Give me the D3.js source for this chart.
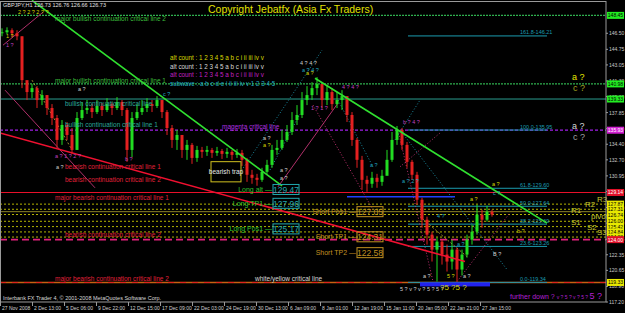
<!DOCTYPE html>
<html>
<head>
<meta charset="utf-8">
<script src="https://cdn.jsdelivr.net/npm/d3@7"></script>
<style>
body { margin: 0; background: #000; }
svg { display: block; }
text { font-family: "Liberation Sans", Arial, sans-serif; }
</style>
</head>
<body>
<div id="wrapper"></div>
<script>
// GBPJPY H1, sampled every 10 bars
const barStep = 10
const closes = [146.61,146.83,146.50,146.17,141.39,140.09,140.52,139.22,139.76,138.35,
  137.26,134.87,136.50,135.41,133.78,137.26,138.13,138.35,137.91,138.57,
  138.13,138.78,138.35,139.00,138.13,133.78,137.26,137.91,138.35,138.78,
  138.57,139.22,137.91,136.17,134.87,135.41,133.78,134.33,132.91,133.78,
  133.57,133.78,133.46,133.67,133.35,133.57,133.24,133.46,132.70,131.07,
  130.74,130.52,131.39,132.15,133.78,134.00,134.87,135.74,137.04,137.59,
  139.22,139.76,140.52,140.96,139.22,140.09,138.78,139.22,139.65,137.59,
  134.87,132.70,130.52,130.09,130.74,130.30,130.96,132.70,134.87,135.96,
  134.33,132.48,131.07,128.35,126.17,124.54,122.91,123.78,122.37,121.61,
  122.91,120.74,122.37,124.00,124.87,126.72,126.17,127.04,126.73]
const highs = [147.04,147.15,147.04,146.83,146.17,141.17,140.96,140.74,140.30,139.76,
  138.78,137.59,137.04,136.83,136.17,137.91,139.00,139.22,138.78,139.22,
  138.89,139.43,139.00,139.54,139.22,138.35,137.91,138.78,139.22,139.43,
  139.22,139.65,139.22,138.13,136.50,135.96,135.41,134.87,134.54,134.22,
  134.11,134.22,134.00,134.11,133.89,134.00,133.78,133.89,133.78,132.91,
  131.61,131.17,131.83,132.70,134.33,134.87,135.96,136.50,137.91,138.67,
  140.09,140.74,141.17,141.72,140.52,140.85,140.52,140.09,140.30,139.43,
  137.91,135.09,133.13,130.96,131.39,131.17,131.61,133.78,135.74,136.39,
  136.17,134.65,132.70,131.39,128.57,126.50,124.87,124.22,124.00,123.46,
  124.00,123.13,122.91,124.54,125.63,127.80,127.26,127.70,127.26]
const lows = [146.17,146.39,146.07,145.74,140.52,139.22,139.43,138.35,138.67,137.59,
  136.50,134.00,134.33,134.87,133.35,133.78,137.04,137.70,137.26,137.70,
  137.48,137.91,137.59,138.13,137.48,132.48,133.00,137.04,137.59,137.91,
  137.91,138.35,137.26,135.41,134.00,133.78,132.91,132.70,132.26,132.48,
  132.91,133.13,132.91,133.13,132.80,132.91,132.70,132.91,132.04,130.30,
  130.09,129.87,130.30,131.17,131.83,133.24,133.78,134.65,135.41,136.50,
  137.26,138.67,139.22,139.76,138.35,138.67,138.13,138.35,138.13,136.83,
  134.22,131.83,129.43,129.22,129.65,129.65,129.87,131.61,132.48,134.33,
  133.78,131.83,130.52,127.80,125.30,123.46,121.61,119.43,121.28,120.52,
  120.74,119.43,120.09,122.04,123.46,124.54,125.30,125.96,126.50]

const priceTicks = [146.50,144.75,143.05,141.30,139.60,137.85,136.10,134.40,132.70,
  130.95,129.25,127.50,125.80,124.05,122.35,120.65,118.90,117.20]
const timeLabels = ["27 Nov 2008","2 Dec 13:00","5 Dec 06:00","9 Dec 22:00","12 Dec 15:00",
  "17 Dec 09:00","22 Dec 03:00","24 Dec 19:00","30 Dec 13:00","6 Jan 09:00","8 Jan 01:00",
  "12 Jan 19:00","15 Jan 11:00","20 Jan 05:00","22 Jan 21:00","27 Jan 15:00"]
const labelEvery = 64

// critical lines
const levelPrices = [148.45, 140.98, 139.33, 135.93, 129.14, 124.00, 119.33]
const fibNames = ["161.8", "100.0", "61.8", "50.0", "38.2", "23.6", "0.0"]
const fibPrices = [146.21, 135.95, 129.60, 127.64, 125.69, 123.26, 119.34]
const pivotNames = ["R3", "R2", "R1", "pivot", "S1", "S2", "S3"]
const pivotPrices = [127.87, 127.31, 126.74, 126.00, 125.42, 124.84, 124.28]
const pivotBars = [1194, 1170, 1142, 1182, 1142, 1174, 1194]
const longNames = ["Long alt", "Long TP1", "Long Pos1"]
const longPrices = [129.47, 127.96, 125.17]
const shortNames = ["Short Pos1", "Short TP1", "Short TP2"]
const shortPrices = [127.05, 124.31, 122.58]

// line notes [text, bar, price]
const greenNotes = [["major bullish continuation critical line 2", 110, 147.80],
  ["major bullish continuation critical line 1", 110, 141.10]]
const tealNotes = [["bullish continuation critical line", 130, 138.60],
  ["bullish continuation critical line 1", 130, 136.25]]
const magentaNotes = [["magenta critical line", 444, 136.05]]
const redNotes = [["bearish continuation critical line 1", 130, 131.70],
  ["bearish continuation critical line 2", 130, 130.30],
  ["major bearish continuation critical line 1", 110, 128.30],
  ["bearish continuation critical line 2", 130, 124.30],
  ["major bearish continuation critical line 2", 110, 119.50]]
const whiteNotes = [["white/yellow critical line", 510, 119.50]]

const countRows = ["alt count : 1 2 3 4 5 a b c i ii iii iv v",
  "alt count : 1 2 3 4 5 a b c i ii iii iv v",
  "alt count : 1 2 3 4 5 a b c i ii iii iv v",
  "subwave : a b c d e i ii iii iv v 1 2 3 4 5"]
const countPrices = [143.55, 142.65, 141.70, 140.75]

// wave labels [text, bar, price]
const waveWhite = [["a ?", 156, 140.25], ["a ?", 112, 131.70], ["a ?", 526, 134.85],
  ["a ?", 560, 131.40], ["a ?", 560, 130.55], ["4 ? 4 ?", 600, 143.05],
  ["B ?", 986, 122.20], ["a ?", 846, 119.80], ["a ?", 926, 119.80]]
const waveYellow = [["2 ? 2 ? 2 ? ?", 36, 148.60], ["1 ?", 12, 145.95], ["a ?", 612, 141.95],
  ["a ?", 526, 134.10], ["a ?", 984, 129.80], ["a ?", 940, 128.20], ["b ?", 1034, 124.75],
  ["5 ?", 894, 119.80]]
const waveMagenta = [["1 ?", 12, 145.00], ["a ? 1 ? 2 ?", 110, 132.95], ["b ?", 250, 132.60],
  ["1 ? 1 ?", 622, 138.10], ["4 ? 4 ?", 684, 140.40], ["b ? 4 ?", 806, 136.60]]
const waveTeal = [["c ?", 326, 139.70], ["a ? 4 ?", 604, 142.30], ["a ?", 740, 131.95],
  ["4 ?", 874, 126.35], ["a ?", 914, 123.35], ["c ?", 986, 128.90], ["a ? 2 ?", 804, 130.20]]
const bottomWaves = [["5 ? v ? v ? 5 ? 5 ?", 800, 118.45]]
const bigQuestions = [["a ?", 1144, 141.40], ["c ?", 1146, 140.20], ["a ?", 1144, 136.05], ["c ?", 1146, 134.90]]

// trendlines [bar1, price1, bar2, price2]
const greenTrends = [[64, 150.09, 564, 129.87], [630, 141.60, 1094, 125.80]]
const redTrends = [[0, 135.63, 930, 121.61]]
const pinkTrends = [[10, 140.30, 190, 129.65], [6, 145.20, 86, 148.80], [556, 129.76, 676, 138.89]]
const pinkDotted = [[626, 138.67, 746, 127.26], [800, 131.94, 880, 135.63], [914, 119.43, 1020, 126.93],
  [796, 135.96, 866, 119.43]]
const tealDotted = [[480, 131.28, 644, 144.65], [676, 139.22, 746, 131.94], [800, 135.96, 1014, 120.74],
  [790, 134.87, 840, 139.22], [540, 131.60, 600, 137.70]]
const tanDotted = [[64, 141.39, 144, 133.78], [840, 126.50, 934, 122.15]]

async function drawChart() {
  let dimensions = {
    width: 625,
    height: 313,
    plotRight: 606,
    plotTop: 2,
    plotBottom: 302,
  }

  const svg = d3.select('#wrapper')
    .append('svg')
    .attr('width', dimensions.width)
    .attr('height', dimensions.height)
    .style('background', '#000')

  const x = d3.scaleLinear().domain([0, 1210]).range([0, 605])
  const y = d3.scaleLinear().domain([117.2, 149.8]).range([dimensions.plotBottom, 3])

  const plot = svg.append('g')
  const lineGen = d3.line().x(d => x(d[0])).y(d => y(d[1]))

  //! horizontal critical lines
  const levelStyles = [
    {c: '#2fb04f', w: 1.4, dash: '2,1'},
    {c: '#2fb04f', w: 1.4, dash: '2,1'},
    {c: '#2a9d8f', w: 1, dash: null},
    {c: '#a01ee8', w: 1.3, dash: '3,2'},
    {c: '#e8102a', w: 1.2, dash: null},
    {c: '#e0207a', w: 1.6, dash: '7,4'},
    {c: '#c86010', w: 1.6, dash: null},
  ]
  plot.selectAll('.level')
    .data(levelPrices)
    .join('line')
    .attr('x1', 0).attr('x2', dimensions.plotRight)
    .attr('y1', d => y(d)).attr('y2', d => y(d))
    .attr('stroke', (d, i) => levelStyles[i].c)
    .attr('stroke-width', (d, i) => levelStyles[i].w)
    .attr('stroke-dasharray', (d, i) => levelStyles[i].dash)
  // red dashes over the white/yellow line
  plot.append('line')
    .attr('x1', 0).attr('x2', dimensions.plotRight)
    .attr('y1', y(levelPrices[6])).attr('y2', y(levelPrices[6]))
    .attr('stroke', '#e02020').attr('stroke-width', 1)
    .attr('stroke-dasharray', '6,6')

  // pivots
  plot.selectAll('.pivot')
    .data(pivotPrices)
    .join('line')
    .attr('x1', 0).attr('x2', dimensions.plotRight)
    .attr('y1', d => y(d)).attr('y2', d => y(d))
    .attr('stroke', '#b4b400').attr('stroke-width', 1)
    .attr('stroke-dasharray', '2,2')
  plot.append('line')
    .attr('x1', 0).attr('x2', dimensions.plotRight)
    .attr('y1', y(shortPrices[0])).attr('y2', y(shortPrices[0]))
    .attr('stroke', '#8a8228').attr('stroke-width', 1)

  // fibo levels
  plot.selectAll('.fib')
    .data(fibPrices)
    .join('line')
    .attr('x1', x(816)).attr('x2', x(1094))
    .attr('y1', d => y(d)).attr('y2', d => y(d))
    .attr('stroke', '#1a9cb0').attr('stroke-width', 1)
  plot.selectAll('.fibtxt')
    .data(fibPrices)
    .join('text')
    .attr('x', x(1040)).attr('y', d => y(d) - 1.5)
    .attr('fill', '#1a9cb0').style('font-size', '5.5px')
    .text((d, i) => `${fibNames[i]}-${d.toFixed(2)}`)

  // blue swing line + bottom blue bar
  plot.append('line')
    .attr('x1', x(694)).attr('x2', x(910))
    .attr('y1', y(128.67)).attr('y2', y(128.67))
    .attr('stroke', '#2040ff').attr('stroke-width', 1.6)
  plot.append('rect')
    .attr('x', x(840)).attr('width', x(980) - x(840))
    .attr('y', y(119.34)).attr('height', y(118.9) - y(119.34))
    .attr('fill', '#2222ee')

  //! trendlines
  const drawTrends = (data, color, width, dash) => {
    plot.append('g').selectAll('path')
      .data(data)
      .join('path')
      .attr('d', d => lineGen([[d[0], d[1]], [d[2], d[3]]]))
      .attr('stroke', color).attr('stroke-width', width)
      .attr('stroke-dasharray', dash).attr('fill', 'none')
  }
  drawTrends(pinkTrends, '#b0306a', 1, null)
  drawTrends(pinkDotted, '#c03070', 1, '1,2')
  drawTrends(tealDotted, '#1a8aa0', 1, '1,2')
  drawTrends(tanDotted, '#a08a30', 1, '2,2')

  //! candles
  const candles = closes.map((c, i) => ({
    bar: i * barStep,
    open: i ? closes[i - 1] : c,
    close: c,
    high: highs[i],
    low: lows[i],
  }))
  const candleColor = d => d.close >= d.open ? '#22dd22' : '#e42020'
  const cg = plot.append('g')
  cg.selectAll('line')
    .data(candles)
    .join('line')
    .attr('x1', d => x(d.bar) + 2).attr('x2', d => x(d.bar) + 2)
    .attr('y1', d => y(d.high)).attr('y2', d => y(d.low))
    .attr('stroke', candleColor).attr('stroke-width', 1)
  cg.selectAll('rect')
    .data(candles)
    .join('rect')
    .attr('x', d => x(d.bar) + 0.5)
    .attr('width', 3)
    .attr('y', d => y(Math.max(d.open, d.close)))
    .attr('height', d => Math.max(1, Math.abs(y(d.open) - y(d.close))))
    .attr('fill', candleColor)

  drawTrends(greenTrends, '#30e030', 1.6, null)
  drawTrends(redTrends, '#f01030', 1.6, null)

  //! notes
  const drawNotes = (data, color, size) => {
    plot.append('g').selectAll('text')
      .data(data)
      .join('text')
      .attr('x', d => x(d[1])).attr('y', d => y(d[2]))
      .attr('fill', color).style('font-size', size)
      .text(d => d[0])
  }
  drawNotes(greenNotes, '#3cbf3c', '6.5px')
  drawNotes(tealNotes, '#2aa89a', '6.5px')
  drawNotes(magentaNotes, '#b030e0', '6.5px')
  drawNotes(redNotes, '#e0203a', '6.5px')
  drawNotes(whiteNotes, '#d8d8d8', '6.5px')
  drawNotes(waveWhite, '#d0d0d0', '5.5px')
  drawNotes(waveYellow, '#d8d800', '5.5px')
  drawNotes(waveMagenta, '#c040c0', '5.5px')
  drawNotes(waveTeal, '#20a8c0', '5.5px')
  drawNotes(bottomWaves, '#d0d0d0', '5.5px')
  plot.append('text')
    .attr('x', x(880)).attr('y', y(118.55))
    .attr('fill', '#d8d800').style('font-size', '8px')
    .text('?5 ?5 ?')
  plot.selectAll('.bigq')
    .data(bigQuestions)
    .join('text')
    .attr('x', d => x(d[1])).attr('y', d => y(d[2]))
    .attr('fill', (d, i) => ['#e8e800', '#a0a020', '#d8d8d8', '#a0a0a0'][i])
    .style('font-size', '9px')
    .text(d => d[0])

  const countColors = ['#d8d800', '#d8d8d8', '#c020c0', '#20a8c0']
  plot.selectAll('.count')
    .data(countRows)
    .join('text')
    .attr('x', x(340)).attr('y', (d, i) => y(countPrices[i]))
    .attr('fill', (d, i) => countColors[i]).style('font-size', '6.3px')
    .text(d => d)

  // pivot names
  plot.selectAll('.pvname')
    .data(pivotNames)
    .join('text')
    .attr('x', (d, i) => x(pivotBars[i])).attr('y', (d, i) => y(pivotPrices[i]) - 2)
    .attr('fill', '#c8c830').style('font-size', '8px')
    .text(d => d)

  //! trade boxes
  const drawTrades = (names, prices, anchorBar, textColor, boxColor) => {
    const g = plot.append('g')
    names.forEach((n, i) => {
      const bx = x(anchorBar), by = y(prices[i])
      g.append('text')
        .attr('x', bx - 1).attr('y', by + 2.5)
        .attr('text-anchor', 'end')
        .attr('fill', textColor).style('font-size', '7px')
        .text(n + ' \u2014')
      g.append('rect')
        .attr('x', bx).attr('y', by - 5)
        .attr('width', 26).attr('height', 10)
        .attr('fill', 'none').attr('stroke', boxColor).attr('stroke-width', 1)
      g.append('text')
        .attr('x', bx + 13).attr('y', by + 3.3)
        .attr('text-anchor', 'middle')
        .attr('fill', boxColor).style('font-size', '8.5px')
        .text(prices[i].toFixed(2))
    })
  }
  drawTrades(longNames, longPrices, 546, '#2ec02e', '#20a8b0')
  drawTrades(shortNames, shortPrices, 714, '#c09020', '#c09020')

  // bearish trap box
  plot.append('rect')
    .attr('x', x(422)).attr('y', y(132.5))
    .attr('width', x(482) - x(422)).attr('height', y(130.3) - y(132.5))
    .attr('fill', '#000').attr('stroke', '#d0c020').attr('stroke-width', 1)
  plot.append('text')
    .attr('x', x(452)).attr('y', y(131.15))
    .attr('text-anchor', 'middle')
    .attr('fill', '#e8e8e8').style('font-size', '6.5px')
    .text('bearish trap')

  //! frame and axes
  svg.append('rect')
    .attr('x', 0.5).attr('y', 1.5)
    .attr('width', dimensions.plotRight - 0.5).attr('height', dimensions.plotBottom - 1.5)
    .attr('fill', 'none').attr('stroke', '#9a9a9a').attr('stroke-width', 1)

  const axis = svg.append('g')
  axis.selectAll('.ptick')
    .data(priceTicks)
    .join('line')
    .attr('x1', dimensions.plotRight).attr('x2', dimensions.plotRight + 2)
    .attr('y1', d => y(d)).attr('y2', d => y(d))
    .attr('stroke', '#9a9a9a')
  axis.selectAll('.plabel')
    .data(priceTicks)
    .join('text')
    .attr('x', dimensions.plotRight + 3).attr('y', d => y(d) + 2)
    .attr('fill', '#c8c8c8').style('font-size', '5px')
    .text(d => d.toFixed(2))

  // price markers for lines
  const markers = [
    ...levelPrices.slice(0, 3).map(p => ({p, bg: '#22ee22', fg: '#000'})),
    {p: levelPrices[3], bg: '#d020d0', fg: '#fff'},
    {p: levelPrices[4], bg: '#e01028', fg: '#fff'},
    ...pivotPrices.map(p => ({p, bg: '#e8e800', fg: '#000'})),
    {p: levelPrices[5], bg: '#e01028', fg: '#fff'},
    {p: levelPrices[6], bg: '#e8e800', fg: '#000'},
  ]
  const mk = axis.selectAll('.mk')
    .data(markers)
    .join('g')
    .attr('transform', d => `translate(${dimensions.plotRight + 1},${y(d.p)})`)
  mk.append('rect')
    .attr('x', 0).attr('y', -3.5).attr('width', 17).attr('height', 7)
    .attr('fill', d => d.bg)
  mk.append('text')
    .attr('x', 8.5).attr('y', 2)
    .attr('text-anchor', 'middle')
    .attr('fill', d => d.fg).style('font-size', '5px')
    .text(d => d.p.toFixed(2))

  // time axis
  const tg = axis.selectAll('.tlabel')
    .data(timeLabels)
    .join('g')
    .attr('transform', (d, i) => `translate(${x(i * labelEvery)},${dimensions.plotBottom})`)
  tg.append('line')
    .attr('x1', 0.5).attr('x2', 0.5).attr('y1', 0).attr('y2', 4)
    .attr('stroke', '#9a9a9a')
  tg.append('text')
    .attr('x', 2).attr('y', 8)
    .attr('fill', '#d0d0d0').style('font-size', '5px')
    .text(d => d)

  //! header / footer texts
  svg.append('text')
    .attr('x', 3).attr('y', 7)
    .attr('fill', '#e0e0e0').style('font-size', '5.5px')
    .text('GBPJPY,H1  126.73 126.76 126.66 126.73')
  svg.append('text')
    .attr('x', 208).attr('y', 13)
    .attr('fill', '#e0e000').style('font-size', '10.5px')
    .text('Copyright Jebatfx (Asia Fx Traders)')
  svg.append('text')
    .attr('x', 3).attr('y', 300)
    .attr('fill', '#d8d8d8').style('font-size', '5.5px')
    .text('Interbank FX Trader 4, \u00a9 2001-2008 MetaQuotes Software Corp.')
  const fd = svg.append('text')
    .attr('x', 510).attr('y', 299)
    .attr('fill', '#b020d0').style('font-size', '7px')
  fd.append('tspan').text('further down ? ')
  fd.append('tspan').style('font-size', '5px').text('v ? 5 ? v ? 5 ? ')
  fd.append('tspan').style('font-size', '9px').text('5 ?')
}

drawChart()
</script>
</body>
</html>
